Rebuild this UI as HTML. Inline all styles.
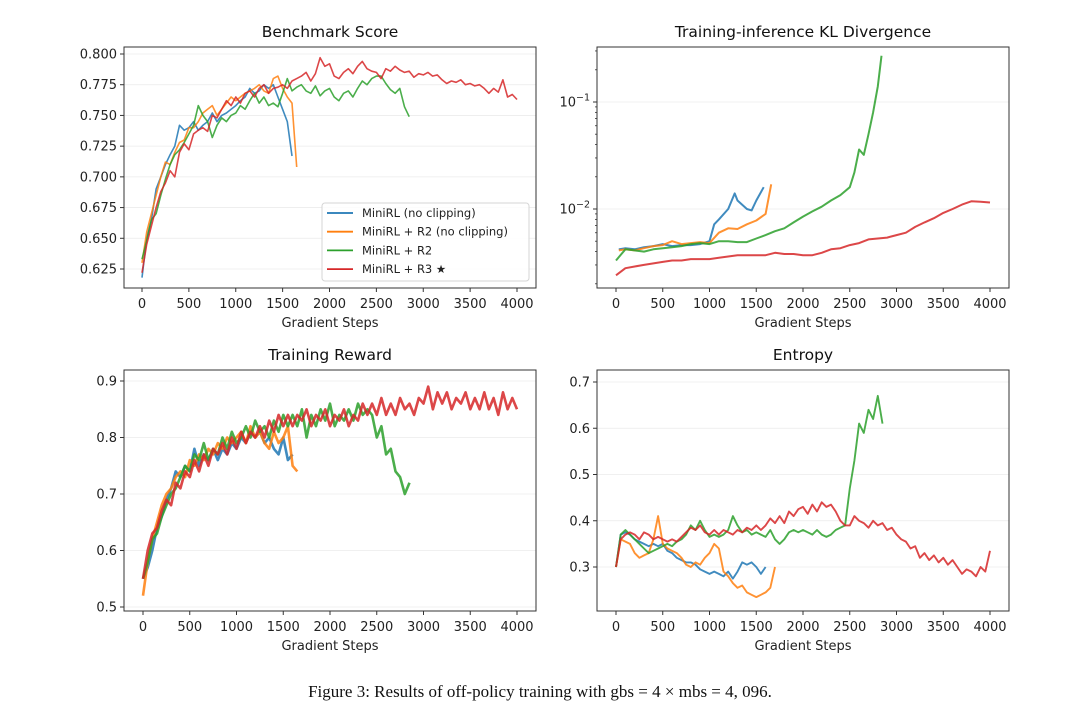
<!DOCTYPE html>
<html><head><meta charset="utf-8"><style>
html,body{margin:0;padding:0;background:#fff;}
svg{display:block;font-family:"DejaVu Sans","Liberation Sans",sans-serif;}
</style></head><body>
<svg id="fig" width="1080" height="726" viewBox="0 0 1080 726">
<text x="540" y="697" text-anchor="middle" font-family="Liberation Serif, serif" font-size="17" fill="#111">Figure 3: Results of off-policy training with gbs = 4 × mbs = 4, 096.</text>
</svg>
<script>
// ---------- data ----------
const seriesNames = ["MiniRL (no clipping)","MiniRL + R2 (no clipping)","MiniRL + R2","MiniRL + R3 \u2605"];
const seriesColors = ["#1f77b4","#ff7f0e","#2ca02c","#d62728"];
const xTicks = [0,500,1000,1500,2000,2500,3000,3500,4000];
const STEP = 50;

const benchBlue = [0.618,0.65,0.665,0.69,0.7,0.71,0.718,0.725,0.742,0.738,0.74,0.745,0.738,0.742,0.745,0.752,0.745,0.75,0.752,0.755,0.758,0.762,0.765,0.772,0.768,0.77,0.775,0.772,0.775,0.765,0.755,0.745,0.717];
const benchOrange = [0.63,0.655,0.67,0.685,0.7,0.712,0.71,0.72,0.728,0.73,0.74,0.74,0.745,0.752,0.755,0.758,0.75,0.755,0.76,0.765,0.762,0.765,0.768,0.77,0.772,0.775,0.77,0.768,0.78,0.782,0.772,0.765,0.76,0.708];
const benchGreen = [0.633,0.648,0.665,0.67,0.685,0.698,0.71,0.718,0.722,0.728,0.735,0.742,0.758,0.75,0.745,0.732,0.742,0.748,0.745,0.75,0.752,0.758,0.755,0.762,0.768,0.76,0.765,0.758,0.76,0.757,0.768,0.78,0.77,0.773,0.775,0.77,0.768,0.774,0.766,0.77,0.772,0.765,0.762,0.768,0.77,0.765,0.772,0.778,0.775,0.78,0.782,0.782,0.776,0.771,0.768,0.772,0.757,0.749];
const benchRed = [0.622,0.645,0.66,0.675,0.688,0.695,0.705,0.70,0.72,0.727,0.722,0.735,0.738,0.74,0.737,0.75,0.748,0.755,0.762,0.758,0.765,0.76,0.768,0.77,0.765,0.772,0.775,0.768,0.772,0.773,0.775,0.772,0.778,0.78,0.782,0.785,0.778,0.784,0.797,0.79,0.792,0.782,0.78,0.785,0.788,0.784,0.79,0.794,0.788,0.786,0.785,0.78,0.788,0.786,0.79,0.787,0.785,0.786,0.781,0.784,0.783,0.785,0.782,0.783,0.779,0.776,0.778,0.777,0.779,0.775,0.776,0.774,0.775,0.772,0.768,0.772,0.769,0.779,0.765,0.767,0.763];
const benchTicks = [0.625,0.65,0.675,0.7,0.725,0.75,0.775,0.8];

const klBlueX = [30,100,200,300,400,500,600,700,800,900,1000,1050,1100,1200,1270,1300,1400,1450,1500,1580];
const klBlue = [0.0042,0.0043,0.0042,0.0044,0.0045,0.0047,0.0045,0.0046,0.0046,0.0047,0.005,0.0072,0.008,0.01,0.014,0.012,0.010,0.0097,0.012,0.016];
const klOrangeX = [30,100,200,300,400,500,600,700,800,900,1000,1100,1200,1300,1400,1500,1600,1660];
const klOrange = [0.0041,0.0042,0.0041,0.0043,0.0045,0.0046,0.005,0.0047,0.0048,0.0049,0.0048,0.006,0.0066,0.0065,0.0072,0.0078,0.009,0.017];
const klGreenX = [0,100,200,300,400,500,600,700,800,900,1000,1100,1200,1300,1400,1500,1600,1700,1800,1900,2000,2100,2200,2300,2400,2500,2550,2600,2650,2700,2750,2800,2840];
const klGreen = [0.0033,0.0042,0.0041,0.004,0.0042,0.0043,0.0044,0.0045,0.0047,0.0048,0.0047,0.005,0.005,0.0049,0.0049,0.0053,0.0057,0.0062,0.0066,0.0075,0.0085,0.0095,0.0105,0.012,0.0135,0.016,0.022,0.036,0.032,0.05,0.08,0.14,0.27];
const klRedX = [0,100,200,300,400,500,600,700,800,900,1000,1100,1200,1300,1400,1500,1600,1700,1800,1900,2000,2100,2200,2300,2400,2500,2600,2700,2800,2900,3000,3100,3200,3300,3400,3500,3600,3700,3800,3900,4000];
const klRed = [0.0024,0.0028,0.0029,0.003,0.0031,0.0032,0.0033,0.0033,0.0034,0.0034,0.0034,0.0035,0.0036,0.0037,0.0037,0.0037,0.0037,0.0039,0.0038,0.0038,0.0037,0.0037,0.0039,0.0042,0.0043,0.0046,0.0048,0.0052,0.0053,0.0054,0.0057,0.006,0.0068,0.0075,0.0082,0.0092,0.01,0.011,0.0118,0.0117,0.0115];

const rewBlue = [0.55,0.57,0.60,0.64,0.66,0.69,0.71,0.74,0.73,0.75,0.74,0.78,0.75,0.77,0.76,0.78,0.76,0.78,0.77,0.79,0.78,0.80,0.79,0.81,0.80,0.81,0.79,0.80,0.78,0.77,0.80,0.76,0.77];
const rewOrange = [0.52,0.58,0.62,0.65,0.68,0.70,0.71,0.73,0.74,0.73,0.76,0.75,0.77,0.76,0.78,0.77,0.79,0.78,0.80,0.79,0.80,0.81,0.79,0.82,0.80,0.81,0.79,0.78,0.81,0.79,0.80,0.82,0.75,0.74];
const rewGreen = [0.55,0.58,0.62,0.63,0.66,0.68,0.70,0.71,0.73,0.75,0.74,0.77,0.76,0.79,0.76,0.78,0.77,0.80,0.78,0.81,0.79,0.80,0.82,0.80,0.83,0.81,0.82,0.80,0.83,0.81,0.84,0.82,0.84,0.82,0.85,0.80,0.84,0.82,0.85,0.83,0.86,0.82,0.84,0.83,0.85,0.83,0.86,0.84,0.85,0.84,0.80,0.82,0.77,0.78,0.74,0.73,0.70,0.72];
const rewRed = [0.55,0.60,0.63,0.64,0.67,0.69,0.68,0.72,0.71,0.74,0.73,0.76,0.74,0.77,0.75,0.78,0.77,0.79,0.77,0.80,0.78,0.81,0.79,0.81,0.80,0.82,0.80,0.83,0.81,0.84,0.82,0.84,0.82,0.84,0.83,0.85,0.82,0.84,0.83,0.85,0.82,0.84,0.83,0.85,0.82,0.84,0.83,0.86,0.84,0.86,0.84,0.87,0.84,0.86,0.84,0.87,0.85,0.86,0.84,0.87,0.86,0.89,0.85,0.88,0.86,0.88,0.85,0.87,0.86,0.88,0.85,0.87,0.85,0.88,0.85,0.87,0.84,0.88,0.85,0.87,0.85];
const rewTicks = [0.5,0.6,0.7,0.8,0.9];

const entBlue = [0.30,0.37,0.375,0.37,0.36,0.355,0.35,0.345,0.35,0.345,0.35,0.335,0.33,0.32,0.315,0.31,0.31,0.305,0.295,0.29,0.285,0.29,0.285,0.28,0.29,0.275,0.29,0.31,0.305,0.31,0.30,0.285,0.30];
const entOrange = [0.30,0.36,0.355,0.35,0.33,0.32,0.325,0.33,0.36,0.41,0.35,0.34,0.335,0.33,0.32,0.305,0.30,0.31,0.305,0.32,0.33,0.35,0.34,0.29,0.28,0.265,0.255,0.26,0.245,0.24,0.235,0.24,0.245,0.255,0.30];
const entGreen = [0.30,0.37,0.38,0.37,0.36,0.35,0.34,0.33,0.335,0.34,0.345,0.35,0.345,0.355,0.36,0.37,0.39,0.38,0.40,0.38,0.365,0.37,0.365,0.37,0.38,0.41,0.39,0.375,0.38,0.37,0.375,0.37,0.365,0.38,0.36,0.35,0.36,0.375,0.38,0.375,0.38,0.375,0.37,0.38,0.37,0.365,0.37,0.38,0.385,0.39,0.47,0.53,0.61,0.59,0.64,0.62,0.67,0.61];
const entRed = [0.30,0.36,0.37,0.375,0.37,0.36,0.375,0.37,0.36,0.365,0.36,0.355,0.36,0.355,0.365,0.375,0.385,0.38,0.39,0.375,0.37,0.38,0.37,0.38,0.375,0.37,0.38,0.375,0.385,0.38,0.39,0.38,0.39,0.405,0.395,0.41,0.395,0.42,0.41,0.425,0.43,0.415,0.435,0.42,0.44,0.43,0.435,0.42,0.40,0.39,0.39,0.41,0.40,0.395,0.385,0.40,0.39,0.395,0.38,0.385,0.37,0.36,0.355,0.34,0.345,0.32,0.33,0.315,0.325,0.31,0.32,0.305,0.315,0.30,0.285,0.295,0.29,0.28,0.30,0.29,0.335];
const entTicks = [0.3,0.4,0.5,0.6,0.7];

// ---------- drawing ----------
const NS = "http://www.w3.org/2000/svg";
const svg = document.getElementById("fig");
function mk(tag, attrs, parent){
  const e = document.createElementNS(NS, tag);
  for (const k in attrs) e.setAttribute(k, attrs[k]);
  (parent||svg).appendChild(e);
  return e;
}
function stepsFor(arr){ return arr.map((v,i)=>i*STEP); }

function panel(cfg){
  const g = mk("g", {});
  
  
  const X = v => cfg.xp0 + (v/4000)*(cfg.xp1-cfg.xp0);
  let Y;
  if (cfg.log){
    Y = v => cfg.yRef + (Math.log10(cfg.refVal) - Math.log10(v))*cfg.decade;
  } else {
    Y = v => cfg.yp0 + (v-cfg.v0)/(cfg.v1-cfg.v0)*(cfg.yp1-cfg.yp0);
  }
  cfg.yTicks.forEach(t=>{
    const l = mk("line",{x1:cfg.bx0,x2:cfg.bx1,y1:Y(t),y2:Y(t),stroke:"#ebebeb","stroke-width":0.8},g);
    
    
  });
  cfg.series.forEach((s,i)=>{
    const xs = s.x || stepsFor(s.y);
    const d = s.y.map((v,j)=>(j?"L":"M")+X(xs[j]).toFixed(1)+","+Y(v).toFixed(1)).join("");
    const p = mk("path",{d:d,fill:"none",stroke:seriesColors[s.c],"stroke-width":cfg.sw||1.6,"stroke-opacity":0.85,"stroke-linejoin":"round"},g);
    
    
  });
  const fr = mk("rect",{x:cfg.bx0,y:cfg.by0,width:cfg.bx1-cfg.bx0,height:cfg.by1-cfg.by0,fill:"none",stroke:"#333","stroke-width":1},g);
  
  
  xTicks.forEach(t=>{
    mk("line",{x1:X(t),x2:X(t),y1:cfg.by1,y2:cfg.by1+4,stroke:"#333"},g);
    const tx = mk("text",{x:X(t),y:cfg.by1+20,"text-anchor":"middle","font-size":13,fill:"#222"},g);
    tx.textContent = t;
    
    
  });
  cfg.yTicks.forEach(t=>{
    mk("line",{x1:cfg.bx0-4,x2:cfg.bx0,y1:Y(t),y2:Y(t),stroke:"#333"},g);
    const tx = mk("text",{x:cfg.bx0-7,y:Y(t)+4.5,"text-anchor":"end","font-size":13,fill:"#222"},g);
    if (cfg.log){
      const exp = Math.round(Math.log10(t));
      tx.textContent = "10";
      const sup = mk("tspan",{dy:-6,"font-size":9.5},tx);
      sup.textContent = "\u2212"+Math.abs(exp);
    } else {
      tx.textContent = cfg.fmt(t);
    }
    
    
  });
  if (cfg.log){
    cfg.minor.forEach(t=>{ mk("line",{x1:cfg.bx0-2,x2:cfg.bx0,y1:Y(t),y2:Y(t),stroke:"#333","stroke-width":0.8},g); });
  }
  const ti = mk("text",{x:(cfg.bx0+cfg.bx1)/2,y:cfg.by0-10,"text-anchor":"middle","font-size":15.5,fill:"#111"},g);
  ti.textContent = cfg.title;
  
  
  const xl = mk("text",{x:(cfg.bx0+cfg.bx1)/2,y:cfg.by1+39,"text-anchor":"middle","font-size":13,fill:"#222"},g);
  xl.textContent = "Gradient Steps";
  
  
}

panel({name:"benchmark-score-panel",key:"bench",title:"Benchmark Score",bx0:124,bx1:536,by0:47,by1:288,xp0:142,xp1:517,
  v0:0.625,v1:0.8,yp0:269,yp1:54,yTicks:benchTicks,fmt:t=>t.toFixed(3),
  series:[{c:0,y:benchBlue},{c:1,y:benchOrange},{c:2,y:benchGreen},{c:3,y:benchRed}]});
panel({name:"kl-divergence-panel",key:"kl",title:"Training-inference KL Divergence",bx0:597,bx1:1009,by0:47,by1:288,xp0:616,xp1:990,
  log:true,refVal:0.01,yRef:209,decade:107,yTicks:[0.01,0.1],sw:2,
  minor:[0.002,0.003,0.004,0.005,0.006,0.007,0.008,0.009,0.02,0.03,0.04,0.05,0.06,0.07,0.08,0.09,0.2,0.3],
  series:[{c:0,x:klBlueX,y:klBlue},{c:1,x:klOrangeX,y:klOrange},{c:2,x:klGreenX,y:klGreen},{c:3,x:klRedX,y:klRed}]});
panel({name:"training-reward-panel",key:"reward",title:"Training Reward",bx0:124,bx1:536,by0:370,by1:611,xp0:143,xp1:517,
  v0:0.5,v1:0.9,yp0:607,yp1:381,yTicks:rewTicks,fmt:t=>t.toFixed(1),sw:2.6,
  series:[{c:0,y:rewBlue},{c:1,y:rewOrange},{c:2,y:rewGreen},{c:3,y:rewRed}]});
panel({name:"entropy-panel",key:"entropy",title:"Entropy",bx0:597,bx1:1009,by0:370,by1:611,xp0:616,xp1:990,
  v0:0.3,v1:0.7,yp0:567,yp1:382,yTicks:entTicks,fmt:t=>t.toFixed(1),sw:1.9,
  series:[{c:0,y:entBlue},{c:1,y:entOrange},{c:2,y:entGreen},{c:3,y:entRed}]});

const lg = mk("g",{});


mk("rect",{x:322,y:203,width:207,height:78,rx:3,fill:"#fff","fill-opacity":0.85,stroke:"#d5d5d5"},lg);
seriesNames.forEach((n,i)=>{
  const yy = 213 + i*18.7;
  mk("line",{x1:327,x2:353,y1:yy,y2:yy,stroke:seriesColors[i],"stroke-width":1.8},lg);
  const t = mk("text",{x:362,y:yy+4,"font-size":11.5,fill:"#222"},lg);
  t.textContent = n;
  
  
});
</script>
</body></html>
